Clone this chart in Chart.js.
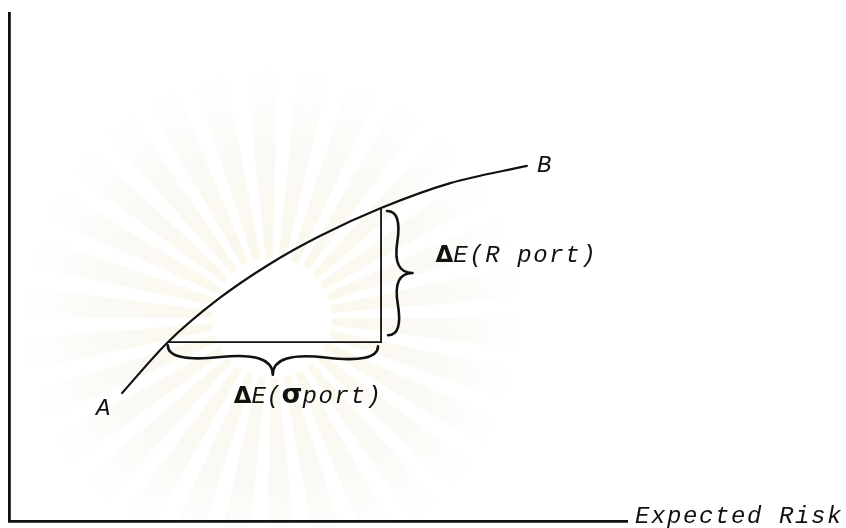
<!DOCTYPE html>
<html>
<head>
<meta charset="utf-8">
<style>
  html, body { margin: 0; padding: 0; background: #fff; }
  #wrap { width: 846px; height: 528px; }
</style>
<script src="https://cdn.jsdelivr.net/npm/chart.js@4.4.1/dist/chart.umd.min.js"></script>
</head>
<body>
<div id="wrap"><canvas id="frontier" width="846" height="528"></canvas></div>
<script>
// Efficient frontier from A (low risk) to B (high risk), arbitrary units
const frontierRisk   = [18.3, 25.7, 34.1, 42.2, 50.3, 60.2, 71.4, 83.8];
const frontierReturn = [25.2, 35.2, 43.9, 50.6, 56.1, 61.6, 66.5, 69.9];

// the two portfolios on the curve that the triangle compares
const lowIdx = 1;
const highIdx = 5;

const endLabels = ['A', 'B'];
const xAxisLabel = 'Expected Risk';

const ink = '#111';
const MONO = 'italic 24px "Liberation Mono", "DejaVu Sans Mono", monospace';
const DELTA = 'bold 23px "DejaVu Sans", sans-serif';

const curvePts = frontierRisk.map((x, i) => ({ x, y: frontierReturn[i] }));
const pLow = curvePts[lowIdx];
const pHigh = curvePts[highIdx];
const trianglePts = [pLow, { x: pHigh.x, y: pLow.y }, pHigh];

// curly brace between two pixel points, tip pushed out along the normal
function drawBrace(ctx, x1, y1, x2, y2, w) {
    const len = Math.hypot(x2 - x1, y2 - y1);
    const ux = (x2 - x1) / len, uy = (y2 - y1) / len;
    const nx = -uy, ny = ux;
    const q = 0.6;
    const at = (s, d) => [x1 + s * len * ux + d * w * nx, y1 + s * len * uy + d * w * ny];
    const half = (sA, sB) => {
        const c1 = at(sA, q), m = at(sB, 1 - q);
        const tip = at(0.5, 1);
        const c2 = [2 * m[0] - c1[0], 2 * m[1] - c1[1]];
        return { c1, m, c2, tip };
    };
    const a = half(0, 0.25);
    const b = half(1, 0.75);
    ctx.beginPath();
    ctx.moveTo(x1, y1);
    ctx.quadraticCurveTo(a.c1[0], a.c1[1], a.m[0], a.m[1]);
    ctx.quadraticCurveTo(a.c2[0], a.c2[1], a.tip[0], a.tip[1]);
    ctx.moveTo(x2, y2);
    ctx.quadraticCurveTo(b.c1[0], b.c1[1], b.m[0], b.m[1]);
    ctx.quadraticCurveTo(b.c2[0], b.c2[1], b.tip[0], b.tip[1]);
    ctx.stroke();
    return { x: a.tip[0], y: a.tip[1] };
}

// draws text made of runs in different fonts, left to right
function drawRuns(ctx, runs, x, y) {
    runs.forEach(([text, font, spacing]) => {
        ctx.font = font;
        ctx.letterSpacing = spacing || '0px';
        ctx.fillText(text, x, y);
        x += ctx.measureText(text).width;
    });
    ctx.letterSpacing = '0px';
}

// faint sunburst printed behind the figure on the page
const pageMark = {
    id: 'pageMark',
    beforeDraw(chart) {
        const { ctx } = chart;
        const cx = 272, cy = 318, r0 = 60, r1 = 250;
        const rays = 30;
        const grad = ctx.createRadialGradient(cx, cy, r0, cx, cy, r1);
        grad.addColorStop(0, 'rgba(246,240,214,0.45)');
        grad.addColorStop(0.55, 'rgba(242,238,224,0.35)');
        grad.addColorStop(1, 'rgba(242,240,232,0)');
        ctx.save();
        ctx.fillStyle = grad;
        for (let i = 0; i < rays; i++) {
            const a0 = (i / rays) * Math.PI * 2;
            const a1 = a0 + (Math.PI * 2 / rays) * 0.6;
            ctx.beginPath();
            ctx.moveTo(cx + r0 * Math.cos(a0), cy + r0 * Math.sin(a0));
            ctx.lineTo(cx + r1 * Math.cos(a0), cy + r1 * Math.sin(a0));
            ctx.lineTo(cx + r1 * Math.cos(a1), cy + r1 * Math.sin(a1));
            ctx.lineTo(cx + r0 * Math.cos(a1), cy + r0 * Math.sin(a1));
            ctx.closePath();
            ctx.fill();
        }
        ctx.restore();
    }
};

const annotations = {
    id: 'annotations',
    afterDatasetsDraw(chart) {
        const { ctx, chartArea } = chart;
        const xs = chart.scales.x, ys = chart.scales.y;
        const px = (p) => [xs.getPixelForValue(p.x), ys.getPixelForValue(p.y)];
        const [lx, ly] = px(pLow);
        const [hx, hy] = px(pHigh);

        ctx.save();
        ctx.strokeStyle = ink;
        ctx.fillStyle = ink;
        ctx.lineWidth = 2.6;
        ctx.lineCap = 'round';
        ctx.lineJoin = 'round';

        // brace under the horizontal leg (change in risk)
        const tipH = drawBrace(ctx, lx, ly + 3, hx - 3, ly + 4, 29);
        // brace right of the vertical leg (change in return), drawn bottom to top
        const tipV = drawBrace(ctx, hx + 7, ly - 7, hx + 6, hy + 3, 25);

        ctx.textBaseline = 'alphabetic';
        ctx.textAlign = 'left';

        drawRuns(ctx, [
            ['Δ', DELTA],
            ['E(R port)', MONO, '1.6px']
        ], tipV.x + 23, tipV.y - 11);

        drawRuns(ctx, [
            ['Δ', DELTA],
            ['E(', MONO, '0.5px'],
            ['σ', 'bold 27px "DejaVu Sans", sans-serif'],
            ['port)', MONO, '1.6px']
        ], tipH.x - 39, tipH.y + 28);

        // curve end labels
        const [ax, ay] = px(curvePts[0]);
        const [bx, by] = px(curvePts[curvePts.length - 1]);
        drawRuns(ctx, [[endLabels[0], MONO]], ax - 26, ay + 22);
        drawRuns(ctx, [[endLabels[1], MONO]], bx + 10, by + 6);

        // horizontal axis title, continuing the axis line
        drawRuns(ctx, [[xAxisLabel, MONO, '1.6px']], chartArea.right + 8, chartArea.bottom + 2);
        ctx.restore();
    }
};

const hiddenAxis = {
    min: 0,
    max: 100,
    grid: { display: false, drawTicks: false },
    ticks: { display: false },
    border: { display: true, color: ink, width: 2.8 }
};

new Chart(document.getElementById('frontier'), {
    type: 'scatter',
    data: {
        datasets: [
            {
                label: 'frontier',
                data: curvePts,
                showLine: true,
                borderColor: ink,
                borderWidth: 2.2,
                pointRadius: 0,
                cubicInterpolationMode: 'monotone',
                borderCapStyle: 'round'
            },
            {
                label: 'triangle',
                data: trianglePts,
                showLine: true,
                borderColor: ink,
                borderWidth: 1.8,
                pointRadius: 0,
                tension: 0
            }
        ]
    },
    options: {
        responsive: false,
        animation: false,
        devicePixelRatio: 1,
        layout: { padding: { left: 9, top: 13, right: 219, bottom: 7 } },
        plugins: {
            legend: { display: false },
            tooltip: { enabled: false }
        },
        scales: {
            x: { ...hiddenAxis, type: 'linear', position: 'bottom' },
            y: { ...hiddenAxis, type: 'linear', position: 'left' }
        }
    },
    plugins: [pageMark, annotations]
});
</script>
</body>
</html>
